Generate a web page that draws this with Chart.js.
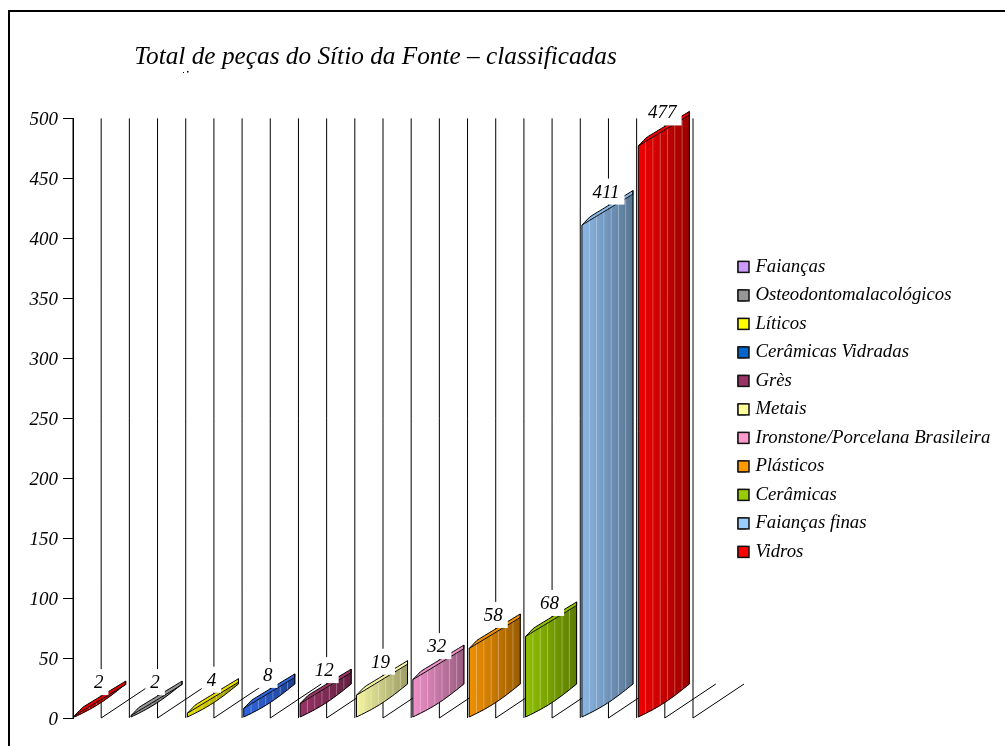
<!DOCTYPE html>
<html><head><meta charset="utf-8">
<style>html,body{margin:0;padding:0;background:#fff}canvas{display:block}</style>
<script src="https://cdn.jsdelivr.net/npm/chart.js@4"></script>
</head><body><canvas id="c" width="1005" height="746"></canvas>
<script>
const categories = ['Faianças','Osteodontomalacológicos','Líticos','Cerâmicas Vidradas','Grès','Metais','Ironstone/Porcelana Brasileira','Plásticos','Cerâmicas','Faianças finas','Vidros'];
const values = [2,2,4,8,12,19,32,58,68,411,477];
const legendColors = ['#cc99ff','#969696','#ffff00','#0066cc','#993366','#ffff99','#ff99cc','#ff9900','#99cc00','#99ccff','#ff0000'];
const barColors = ['#e00000','#969696','#e8e000','#2f66e0','#993366','#f4f4a0','#ee90c8','#f09000','#90c000','#8ab6e4','#f00000'];
const yTicks = [0,50,100,150,200,250,300,350,400,450,500];
const titleText = 'Total de peças do Sítio da Fonte – classificadas';
const SERIF = '"Liberation Serif","Times New Roman",serif';
const SKEW_X = 51, SKEW_Y = 33, TOP_Y = 31, TOP_FACE = 3.5, STRIPES = 7;
const LEGEND_X = 738, LEGEND_Y = 257.5, LEGEND_PAD = 9.7, LEGEND_FONT = 18.8, LEGEND_BOX = 11;

function bottomCurve(t){ return t - .08*Math.sin(Math.PI*t); }
function topCurve(t){ return t; }

const chrome = {
  id:'chrome',
  afterLayout(chart){
    const t = chart.titleBlock; t.left = 134; t.right = 617; t.width = 483;
    const l = chart.legend;
    l.left = LEGEND_X - LEGEND_PAD; l.right = 1005; l.width = l.right - l.left;
    l.top = LEGEND_Y - LEGEND_PAD; l.bottom = 746; l.height = l.bottom - l.top;
  },
  beforeDraw(chart){
    const c = chart.ctx; c.save();
    c.fillStyle = '#fff'; c.fillRect(0,0,chart.width,chart.height);
    c.strokeStyle = '#000'; c.lineWidth = 2;
    c.beginPath(); c.moveTo(9,747); c.lineTo(9,11); c.lineTo(1007,11); c.stroke();
    c.fillStyle = '#000'; c.fillRect(187,71,1.5,1.5); c.fillRect(183,72,1,1);
    c.restore();
  },
  beforeDatasetsDraw(chart){
    const c = chart.ctx, x = chart.scales.x, y = chart.scales.y;
    const y0 = y.getPixelForValue(0), yT = y.getPixelForValue(500);
    const step = x.getPixelForValue(1) - x.getPixelForValue(0);
    c.save(); c.strokeStyle = '#000'; c.lineWidth = 1;
    for (let i=0;i<=categories.length*2;i++){
      const px = x.left + i*step/2;
      c.beginPath(); c.moveTo(px,yT); c.lineTo(px,y0); c.stroke();
      if (i%2===1 || i===categories.length*2){
        c.beginPath(); c.moveTo(px,y0); c.lineTo(px+SKEW_X,y0-SKEW_Y-1); c.stroke();
      }
    }
    c.restore();
  },
  beforeDatasetDraw(chart,args){
    const c = chart.ctx, meta = args.meta;
    meta.data.forEach((bar,i)=>{
      const {x:x0,y:top,base,width:w} = bar.getProps(['x','y','base','width'],true);
      const left = x0 - w/2 - 1;
      const fy = t => base - .5 - SKEW_Y*bottomCurve(t);
      const gy = t => top - TOP_Y*topCurve(t);
      const uy = t => gy(t) - TOP_FACE*Math.min(1,t/.16);
      c.save();
      for (let s=0;s<STRIPES;s++){
        const a=s/STRIPES,b=(s+1)/STRIPES, xa=left+a*w, xb=left+b*w;
        c.beginPath();
        c.moveTo(xa,gy(a)); c.lineTo(xb+.4,gy(b)); c.lineTo(xb+.4,fy(b)); c.lineTo(xa,fy(a)); c.closePath();
        c.fillStyle = barColors[i]; c.fill();
        const g = c.createLinearGradient(xa,0,xb,0);
        g.addColorStop(0,`rgba(0,0,0,${(.36*a).toFixed(3)})`);
        g.addColorStop(1,`rgba(0,0,0,${(.36*b).toFixed(3)})`);
        c.fillStyle = g; c.fill();
        if (s>0){
          c.strokeStyle='rgba(255,255,255,.28)'; c.lineWidth=1;
          c.beginPath(); c.moveTo(xa,gy(a)); c.lineTo(xa,fy(a)); c.stroke();
        }
      }
      c.beginPath(); c.moveTo(left,gy(0));
      for (let k=1;k<=20;k++){ c.lineTo(left+k/20*w,uy(k/20)); }
      for (let k=20;k>=0;k--){ c.lineTo(left+k/20*w,gy(k/20)); }
      c.closePath(); c.fillStyle=barColors[i]; c.fill();
      c.strokeStyle='#000'; c.lineWidth=1; c.stroke();
      c.beginPath(); c.moveTo(left,gy(0)); c.lineTo(left,fy(0));
      for (let k=1;k<=20;k++){ c.lineTo(left+k/20*w,fy(k/20)); }
      c.lineTo(left+w,uy(1)); c.stroke();
      c.restore();
    });
    return false;
  },
  afterDatasetsDraw(chart){
    const c = chart.ctx, meta = chart.getDatasetMeta(0), x = chart.scales.x;
    c.save(); c.font = 'italic 19px '+SERIF; c.textAlign='center'; c.textBaseline='middle';
    meta.data.forEach((bar,i)=>{
      const px = x.getPixelForValue(i) - 2.5, py = bar.y - SKEW_Y/2 - 16;
      const tw = c.measureText(String(values[i])).width;
      c.fillStyle='#fff'; c.fillRect(px-tw/2-5,py-14,tw+10,26);
      c.fillStyle='#000'; c.fillText(String(values[i]),px,py);
    });
    c.restore();
  },
  afterDraw(chart){
    const c = chart.ctx;
    const rowH = LEGEND_FONT + LEGEND_PAD;
    c.save(); c.lineWidth = 1.5; c.strokeStyle = '#111';
    legendColors.forEach((col,i)=>{
      const cy = LEGEND_Y + rowH*i + LEGEND_FONT/2;
      c.fillStyle = col;
      c.fillRect(LEGEND_X,cy-LEGEND_BOX/2,LEGEND_BOX,LEGEND_BOX);
      c.strokeRect(LEGEND_X,cy-LEGEND_BOX/2,LEGEND_BOX,LEGEND_BOX);
    });
    c.restore();
  }
};

new Chart(document.getElementById('c'),{
  type:'bar',
  data:{labels:categories,datasets:[{data:values,backgroundColor:barColors,barPercentage:.906,categoryPercentage:1}]},
  plugins:[chrome],
  options:{
    responsive:false,animation:false,
    layout:{padding:{left:0,right:81,top:0,bottom:28}},
    scales:{
      x:{offset:true,grid:{display:false},border:{display:false},ticks:{display:false},afterFit(a){a.height=0;}},
      y:{min:0,max:500,afterBuildTicks(a){a.ticks=yTicks.map(v=>({value:v}));},
         afterFit(a){a.width=73;},
         grid:{drawOnChartArea:false,drawTicks:true,tickLength:10,color:'#000'},
         border:{display:true,color:'#000',width:1},
         ticks:{color:'#000',padding:5,labelOffset:2,font:{family:SERIF,style:'italic',size:19}}}
    },
    plugins:{
      tooltip:{enabled:false},
      title:{display:true,text:titleText,color:'#000',align:'center',padding:{top:42,bottom:46},font:{family:SERIF,style:'italic',weight:'normal',size:25.3}},
      legend:{display:true,position:'right',align:'start',labels:{
        boxWidth:8,boxHeight:11,padding:LEGEND_PAD,color:'#000',font:{family:SERIF,style:'italic',size:LEGEND_FONT},
        generateLabels(){return categories.map((t,i)=>({text:t,fillStyle:legendColors[i],strokeStyle:'#000',lineWidth:1,index:i}));}
      }}
    }
  }
});
</script></body></html>
